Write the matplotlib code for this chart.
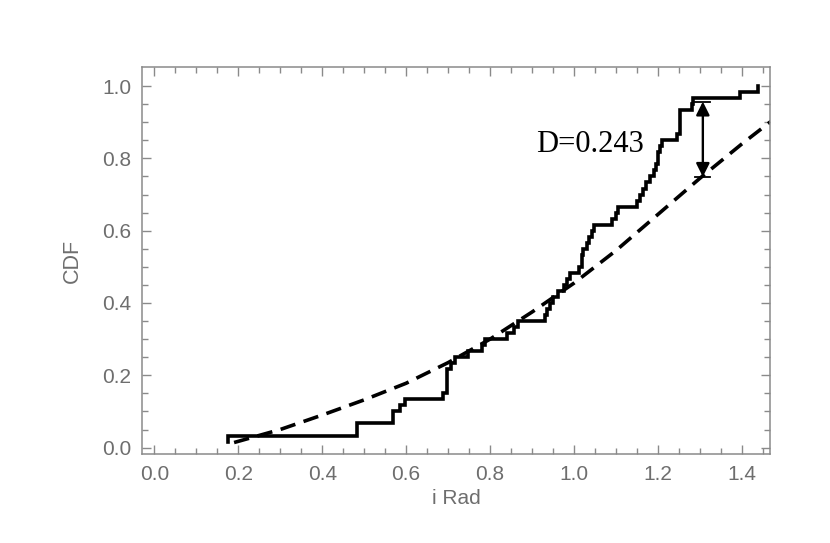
import matplotlib
matplotlib.use('Agg')
import matplotlib.pyplot as plt
import numpy as np

# sample (sorted, with ties) behind the empirical CDF
sample = [0.175, 0.175, 0.482, 0.482, 0.569, 0.569, 0.585, 0.597, 0.688,
          0.697, 0.697, 0.697, 0.697, 0.706, 0.716, 0.747, 0.780, 0.788,
          0.840, 0.856, 0.866, 0.930, 0.935, 0.943, 0.951, 0.963, 0.975,
          0.983, 0.990, 1.012, 1.018, 1.018, 1.022, 1.030, 1.036, 1.042,
          1.048, 1.090, 1.100, 1.105, 1.150, 1.157, 1.165, 1.172, 1.180,
          1.190, 1.195, 1.200, 1.200, 1.205, 1.209, 1.245, 1.253, 1.253,
          1.253, 1.253, 1.280, 1.284, 1.396, 1.439]

# fitted model CDF (dashed)
fit_x = [0.19, 0.3, 0.4, 0.5, 0.6, 0.7, 0.8, 0.9, 1.0, 1.1, 1.2, 1.3, 1.4, 1.5]
fit_y = [0.014, 0.05, 0.09, 0.132, 0.178, 0.235, 0.30, 0.375, 0.455,
         0.545, 0.645, 0.745, 0.84, 0.93]

# KS distance marker
d_label = 'D=0.243'
d_x = 1.307
d_top = 0.957
d_bottom = 0.749

x_ticks = [0.0, 0.2, 0.4, 0.6, 0.8, 1.0, 1.2, 1.4]
y_ticks = [0.0, 0.2, 0.4, 0.6, 0.8, 1.0]

grey = '#6e6e6e'
frame = '#8a8a8a'

fig = plt.figure(figsize=(8.3, 5.43), dpi=100)
ax = fig.add_axes([0.1714, 0.1634, 0.9277 - 0.1714, 0.8761 - 0.1634])

xs = np.array(sample)
ecdf = np.arange(1, len(xs) + 1) / len(xs)
ax.step(xs, ecdf, where='post', color='k', lw=2.6, solid_joinstyle='miter')

ax.plot(fit_x, fit_y, color='k', lw=2.6, linestyle=(0, (4.3, 2.4)),
        dash_capstyle='butt')

# arrow with end bars
ax.annotate('', xy=(d_x, d_bottom), xytext=(d_x, d_top),
            arrowprops=dict(arrowstyle='<|-|>', color='k', lw=1.7,
                            mutation_scale=20, shrinkA=0, shrinkB=0))
bar = 0.018
ax.plot([d_x - bar, d_x + bar], [d_top, d_top], color='k', lw=1.3)
ax.plot([d_x - bar, d_x + bar], [d_bottom, d_bottom], color='k', lw=1.3)
ax.text(1.167, 0.817, d_label, ha='right', va='baseline', fontsize=22,
        family='Liberation Serif')

ax.set_xlim(-0.0288, 1.467)
ax.set_ylim(-0.0185, 1.052)
ax.set_xticks(x_ticks)
ax.set_yticks(y_ticks)
ax.set_xticklabels([f'{t:.1f}' for t in x_ticks])
ax.set_yticklabels([f'{t:.1f}' for t in y_ticks])
ax.set_xticks(np.arange(0.05, 1.46, 0.05), minor=True)
ax.set_yticks(np.arange(0.05, 1.0, 0.05), minor=True)

ax.tick_params(which='both', direction='in', top=True, right=True,
               color=frame, width=1.0)
ax.tick_params(which='major', length=6.5, pad=8, labelsize=15,
               labelcolor=grey)
ax.tick_params(which='minor', length=4)
for s in ax.spines.values():
    s.set_color(frame)
    s.set_linewidth(1.1)

for lab in ax.get_xticklabels() + ax.get_yticklabels():
    lab.set_family('Liberation Sans')

ax.set_xlabel('i Rad', fontsize=15, color=grey, family='Liberation Sans',
              labelpad=3)
ax.set_ylabel('CDF', fontsize=15.5, color=grey, family='Liberation Sans',
              labelpad=14)

fig.savefig('out.png', dpi=100)
